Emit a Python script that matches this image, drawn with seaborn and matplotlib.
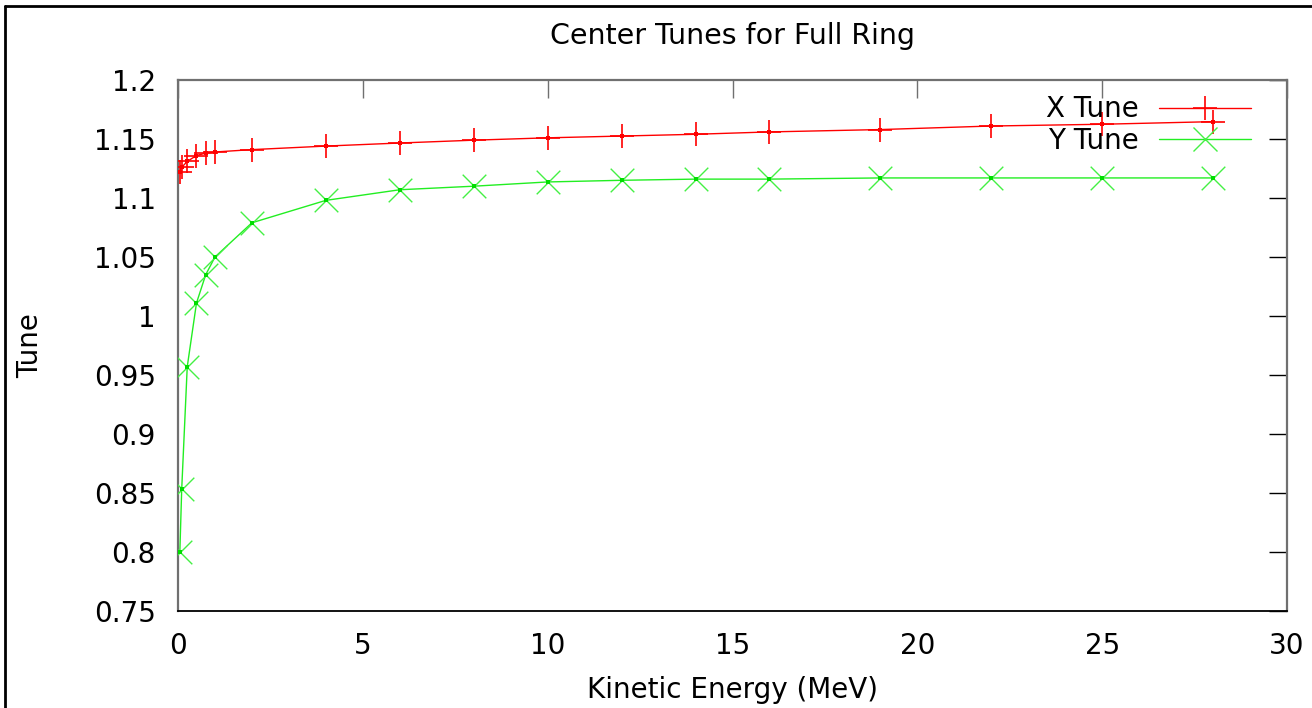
import matplotlib
matplotlib.use("Agg")
import matplotlib.pyplot as plt
from matplotlib.lines import Line2D
from matplotlib.ticker import FuncFormatter, MultipleLocator
import seaborn as sns
import pandas as pd

# Kinetic energy samples (MeV) and the tunes computed at each
energy = [0.05, 0.1, 0.25, 0.5, 0.75, 1, 2, 4, 6, 8, 10, 12, 14, 16, 19, 22, 25, 28]
x_tune = [1.122, 1.126, 1.131, 1.136, 1.138, 1.139, 1.141, 1.144, 1.1466, 1.149,
          1.151, 1.1525, 1.154, 1.156, 1.158, 1.161, 1.1625, 1.1647]
y_tune = [0.800, 0.853, 0.957, 1.011, 1.035, 1.050, 1.079, 1.098, 1.107, 1.110,
          1.1136, 1.115, 1.116, 1.116, 1.117, 1.117, 1.117, 1.117]
series_names = ["X Tune", "Y Tune"]

title = "Center Tunes for Full Ring"
xlabel = "Kinetic Energy (MeV)"
ylabel = "Tune"

sns.set_style("white")
plt.rcParams["font.family"] = ["DejaVu Sans"]
plt.rcParams["text.color"] = "black"
plt.rcParams["axes.labelcolor"] = "black"
plt.rcParams["xtick.color"] = "black"
plt.rcParams["ytick.color"] = "black"

fig = plt.figure(figsize=(13.12, 7.08), dpi=100)
ax = fig.add_axes([178 / 1312, 1 - 611 / 708, (1287 - 178) / 1312, (611 - 80) / 708])

df = pd.DataFrame({"energy": energy, "X Tune": x_tune, "Y Tune": y_tune})

red = "#ff0000"
green = "#22ee22"
fs = 20
msize = 17

# connecting lines
sns.lineplot(data=df, x="energy", y="X Tune", ax=ax, color=red, lw=1.0,
             estimator=None, sort=True)
sns.lineplot(data=df, x="energy", y="Y Tune", ax=ax, color=green, lw=1.0,
             estimator=None, sort=True)
# point symbols
sns.scatterplot(data=df, x="energy", y="X Tune", ax=ax, color=red, marker="+",
                s=msize ** 2, linewidth=1.2, zorder=3)
sns.scatterplot(data=df, x="energy", y="Y Tune", ax=ax, color="#44f044", marker="x",
                s=msize ** 2, linewidth=1.0, zorder=3)
# small centre dots at each sample
sns.scatterplot(data=df, x="energy", y="X Tune", ax=ax, color=red, marker="s",
                s=5, linewidth=0, zorder=4)
sns.scatterplot(data=df, x="energy", y="Y Tune", ax=ax, color="#00dd00", marker="s",
                s=5, linewidth=0, zorder=4)

ax.set_xlim(0, 30)
ax.set_ylim(0.75, 1.2)
ax.xaxis.set_major_locator(MultipleLocator(5))
ax.yaxis.set_major_locator(MultipleLocator(0.05))
fmt = FuncFormatter(lambda v, p: "%g" % round(v, 4))
ax.yaxis.set_major_formatter(fmt)
ax.xaxis.set_major_formatter(fmt)

ax.tick_params(axis="both", which="major", direction="in", length=13, width=1,
               labelsize=fs, top=True, right=True, labelcolor="black")
ax.tick_params(axis="y", pad=16, color="black")
ax.tick_params(axis="x", pad=15, color="#707070")

for side in ["left", "right", "top"]:
    ax.spines[side].set_color("#707070")
    ax.spines[side].set_linewidth(1.6)
ax.spines["bottom"].set_color("black")
ax.spines["bottom"].set_linewidth(1.3)

ax.set_title(title, fontsize=20.5, pad=26)
ax.set_xlabel(xlabel, fontsize=fs, labelpad=12)
ax.set_ylabel(ylabel, fontsize=fs, labelpad=36)

handles = [
    Line2D([], [], color=red, lw=1.0, marker="+", markersize=msize, mew=1.2),
    Line2D([], [], color=green, lw=1.0, marker="x", markersize=msize, mew=1.0,
           markeredgecolor="#44f044"),
]
ax.legend(handles, series_names, loc="upper right", bbox_to_anchor=(0.99, 1.018),
          frameon=False, fontsize=fs, markerfirst=False, handlelength=3.3,
          handletextpad=0.75, labelspacing=0.12, numpoints=1)

# outer page frame (top and left edges)
fig.add_artist(Line2D([5 / 1312, 1.0], [1 - 6 / 708, 1 - 6 / 708],
                      transform=fig.transFigure, color="black", lw=2))
fig.add_artist(Line2D([5 / 1312, 5 / 1312], [0.0, 1 - 6 / 708],
                      transform=fig.transFigure, color="black", lw=2))

fig.savefig("out.png", dpi=100)
